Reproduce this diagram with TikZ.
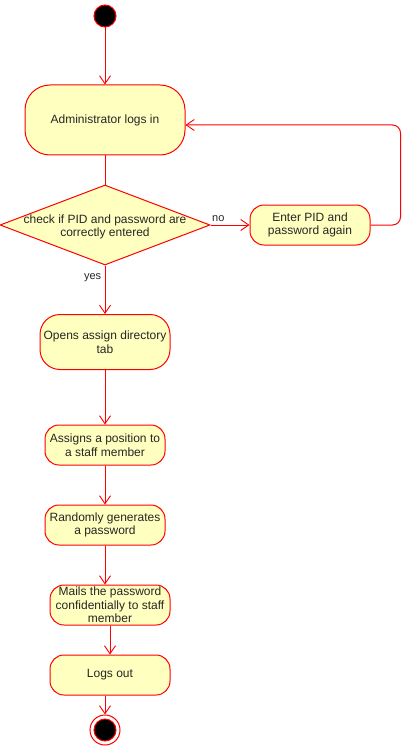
\documentclass[tikz,border=0pt]{standalone}
\usepackage{fontspec}
\setmainfont{Liberation Sans}
\usetikzlibrary{shapes.geometric,arrows.meta}
\definecolor{actfill}{HTML}{FFFFC0}
\definecolor{actline}{HTML}{FF0000}
\begin{document}
\begin{tikzpicture}[x=1pt, y=-1pt, line width=1pt,
		activity/.style={shape=rectangle, draw=actline, fill=actfill, align=center, inner sep=0pt,
			font=\fontsize{12}{13.5}\selectfont, text=black!85},
		flow/.style={draw=actline, -{Straight Barb[length=8pt, width=11pt, line width=0.9pt]}},
		edge/.style={draw=actline}]
			\useasboundingbox (0,0) rectangle (411,746);
			%Start and login:
			\node[shape=circle, draw=actline, fill=black, minimum size=22pt, inner sep=0pt] (start) at (105,16) {};
			\node[activity, rounded corners=25pt, minimum width=160pt, minimum height=70pt] (admin) at (105,120) {Administrator logs in};
			%Decision:
			\node[shape=diamond, draw=actline, fill=actfill, minimum width=210pt, minimum height=80pt, inner sep=0pt] (check) at (105,225) {};
			\node[align=center, font=\fontsize{12}{13.5}\selectfont, text=black!85] (checktext) at ([yshift=-2pt]check.center) {check if PID and password are\\correctly entered};
			\node[activity, rounded corners=14pt, minimum width=120pt, minimum height=40pt] (again) at (310,225) {Enter PID and\\password again};
			%Steps:
			\node[activity, rounded corners=20pt, minimum width=130pt, minimum height=55pt] (opens) at (105,342) {Opens assign directory\\tab};
			\node[activity, rounded corners=14pt, minimum width=120pt, minimum height=40pt] (assigns) at (105,445) {Assigns a position to\\a staff member};
			\node[activity, rounded corners=14pt, minimum width=120pt, minimum height=40pt] (random) at (105,525) {Randomly generates\\a password};
			\node[activity, rounded corners=14pt, minimum width=120pt, minimum height=40pt] (mails) at (110,605) {Mails the password\\confidentially to staff\\member};
			\node[activity, rounded corners=14pt, minimum width=120pt, minimum height=40pt] (logout) at (110,675) {Logs out};
			%End:
			\node[shape=circle, draw=actline, fill=white, minimum size=30pt, inner sep=0pt] (end) at (105,730) {};
			\node[shape=circle, draw=actline, fill=black, minimum size=22pt, inner sep=0pt] (endcore) at (end.center) {};
			%Connectors:
			\draw[flow] (start) -- (admin);
			\draw[edge] (admin) -- (check);
			\draw[flow] (check.east) -- node[pos=0.2, above, font=\fontsize{11}{13}\selectfont, text=black!85] (nolabel) {no} (again.west);
			\draw[flow, rounded corners=8pt] (again.east) -- ++(30,0) |- ([yshift=-5pt]admin.east);
			\draw[flow] (check.south) -- node[pos=0.25, left, font=\fontsize{11}{13}\selectfont, text=black!85] (yeslabel) {yes} (opens.north);
			\draw[flow] (opens) -- (assigns);
			\draw[flow] (assigns) -- (random);
			\draw[flow] (random) -- (random |- mails.north);
			\draw[flow] (mails) -- (logout);
			\draw[flow] (logout.south -| end) -- (end);
\end{tikzpicture}
\end{document}
